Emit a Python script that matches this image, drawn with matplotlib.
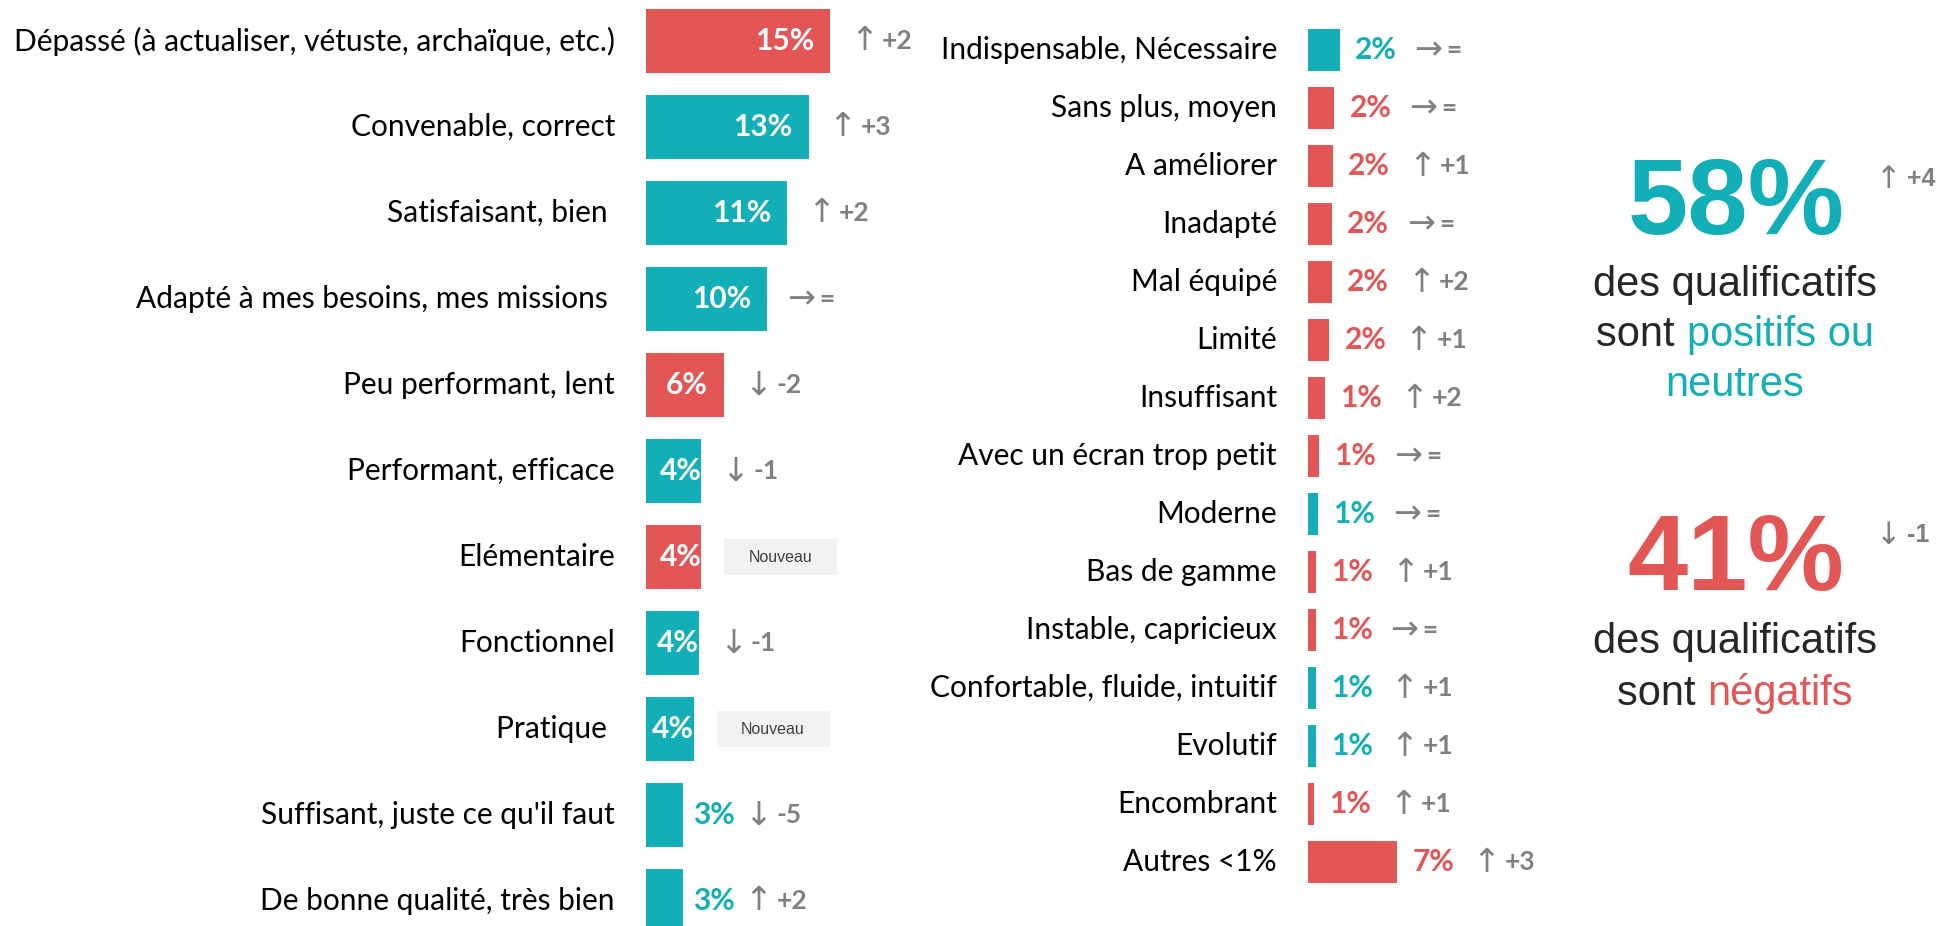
import matplotlib
matplotlib.use('Agg')
import matplotlib.pyplot as plt
from matplotlib.transforms import offset_copy
from matplotlib.patches import Rectangle

# qualificatifs - colonne de gauche
left_labels = ['Dépassé (à actualiser, vétuste, archaïque, etc.)', 'Convenable, correct',
               'Satisfaisant, bien ', 'Adapté à mes besoins, mes missions ', 'Peu performant, lent',
               'Performant, efficace', 'Elémentaire', 'Fonctionnel', 'Pratique ',
               "Suffisant, juste ce qu'il faut", 'De bonne qualité, très bien']
left_values = [14.6, 12.9, 11.2, 9.6, 6.2, 4.4, 4.4, 4.2, 3.8, 2.9, 2.9]
left_texts = ['15%', '13%', '11%', '10%', '6%', '4%', '4%', '4%', '4%', '3%', '3%']
left_tones = ['neg', 'pos', 'pos', 'pos', 'neg', 'pos', 'neg', 'pos', 'pos', 'pos', 'pos']
left_changes = ['+2', '+3', '+2', '=', '-2', '-1', 'Nouveau', '-1', 'Nouveau', '-5', '+2']

# qualificatifs - colonne du milieu
mid_labels = ['Indispensable, Nécessaire', 'Sans plus, moyen', 'A améliorer', 'Inadapté',
              'Mal équipé', 'Limité', 'Insuffisant', 'Avec un écran trop petit', 'Moderne',
              'Bas de gamme', 'Instable, capricieux', 'Confortable, fluide, intuitif',
              'Evolutif', 'Encombrant', 'Autres <1%']
mid_values = [2.5, 2.1, 2.0, 1.9, 1.9, 1.7, 1.35, 0.87, 0.8, 0.63, 0.6, 0.6, 0.6, 0.48, 7.1]
mid_texts = ['2%'] * 6 + ['1%'] * 8 + ['7%']
mid_tones = ['pos', 'neg', 'neg', 'neg', 'neg', 'neg', 'neg', 'neg', 'pos', 'neg', 'neg',
             'pos', 'pos', 'neg', 'neg']
mid_changes = ['=', '=', '+1', '=', '+2', '+1', '+2', '=', '=', '+1', '=', '+1', '+1', '+1', '+3']

# synthese
summary_values = ['58%', '41%']
summary_changes = ['+4', '-1']

TEAL = '#13afb8'
RED = '#e35656'
GRAY = '#808080'
DARK = '#262626'
W, H = 1941, 926
PX = 12.6  # pixels par point de pourcentage
FS = 21.5

plt.rcParams['font.family'] = ['Lato', 'DejaVu Sans']

fig = plt.figure(figsize=(W / 100, H / 100), dpi=100)


def shifted(ax, dx):
    return offset_copy(ax.transData, fig=fig, x=dx, y=0, units='dots')


def arrow_of(change):
    if change.startswith('+'):
        return '\u2191'
    if change.startswith('-'):
        return '\u2193'
    return '\u2192'


def draw_panel(ax, labels, values, texts, tones, changes, out_gap, out_arrow, inside=True):
    for i, (lab, v, txt, tone, ch) in enumerate(zip(labels, values, texts, tones, changes)):
        color = TEAL if tone == 'pos' else RED
        ax.barh(i, v, height=0.74, color=color)
        ax.text(0, i, lab, transform=shifted(ax, -31), ha='right', va='center',
                fontsize=FS, color='black')
        if inside and v >= 5:
            ax.text(v, i, txt, transform=shifted(ax, -16), ha='right', va='center',
                    fontsize=FS, fontweight='bold', color='white')
            after = 22
        elif inside and v >= 3.5:
            ax.text(v, i, txt, transform=shifted(ax, 0), ha='right', va='center',
                    fontsize=FS, fontweight='bold', color='white')
            after = 22
        else:
            ax.text(v, i, txt, transform=shifted(ax, out_gap), ha='left', va='center',
                    fontsize=FS, fontweight='bold', color=color)
            after = out_arrow
        if ch == 'Nouveau':
            ax.add_patch(Rectangle((v + 23 / PX, i - 0.215), 113 / PX, 0.43,
                                   color='#f2f2f2', lw=0))
            ax.text(v + (23 + 56) / PX, i, ch, ha='center', va='center', fontsize=11.5,
                    color='#404040', family='Liberation Sans')
        else:
            ax.text(v, i, arrow_of(ch), transform=shifted(ax, after - 2), ha='left',
                    va='center', fontsize=24, color=GRAY, family='DejaVu Sans')
            ax.text(v, i, ch, transform=shifted(ax, after + 30), ha='left', va='center',
                    fontsize=19, fontweight='bold', color=GRAY)


# panneau gauche
ax1 = fig.add_axes([646 / W, 0, 20 * PX / W, 1])
ax1.set_xlim(0, 20)
ax1.set_ylim((H - 41) / 86, -41 / 86)
ax1.axis('off')
draw_panel(ax1, left_labels, left_values, left_texts, left_tones, left_changes, 10, 64)

# panneau central
ax2 = fig.add_axes([1308 / W, 0, 10 * PX / W, 1])
ax2.set_xlim(0, 10)
ax2.set_ylim((H - 50) / 58, -50 / 58)
ax2.axis('off')
draw_panel(ax2, mid_labels, mid_values, mid_texts, mid_tones, mid_changes, 15, 77,
           inside=False)

# panneau droit
renderer = fig.canvas.get_renderer()
fx = lambda p: p / W
fy = lambda p: 1 - p / H
SANS = 'Liberation Sans'


def two_color_line(first, second, c2, cx, base):
    whole = fig.text(0, 0, first + second, fontsize=30, family=SANS)
    width = whole.get_window_extent(renderer).width
    whole.remove()
    x0 = cx - width / 2
    fig.text(fx(x0), fy(base), first, fontsize=30, family=SANS, color=DARK,
             ha='left', va='baseline')
    fig.text(fx(x0 + width), fy(base), second, fontsize=30, family=SANS, color=c2,
             ha='right', va='baseline')


for val, ch, color, base in zip(summary_values, summary_changes, [TEAL, RED], [234, 590]):
    fig.text(fx(1736), fy(base), val, fontsize=78, fontweight='bold', family=SANS,
             color=color, ha='center', va='baseline')
    fig.text(fx(1876), fy(base - 55), arrow_of(ch), fontsize=22, color=GRAY,
             family='DejaVu Sans', ha='left', va='center')
    fig.text(fx(1907), fy(base - 55), ch, fontsize=18, fontweight='bold', color=GRAY,
             family=SANS, ha='left', va='center')

fig.text(fx(1735), fy(296), 'des qualificatifs', fontsize=30, family=SANS, color=DARK,
         ha='center', va='baseline')
two_color_line('sont ', 'positifs ou', TEAL, 1735, 346)
fig.text(fx(1735), fy(396), 'neutres', fontsize=30, family=SANS, color=TEAL,
         ha='center', va='baseline')
fig.text(fx(1735), fy(653), 'des qualificatifs', fontsize=30, family=SANS, color=DARK,
         ha='center', va='baseline')
two_color_line('sont ', 'négatifs', RED, 1735, 705)

fig.savefig('out.png', dpi=100, facecolor='white')
